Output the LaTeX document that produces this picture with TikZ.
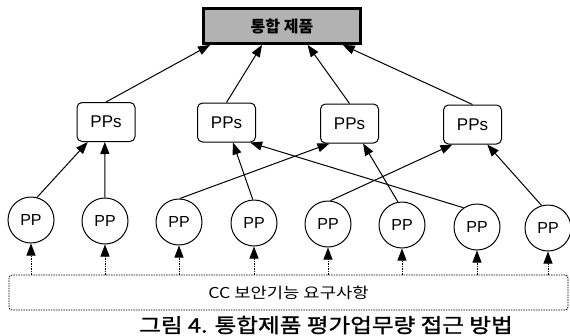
\documentclass[tikz,border=0pt]{standalone}
\usepackage{fontspec}
\setmainfont{Liberation Sans}
\newfontfamily\kr{Noto Sans CJK KR}
\newfontfamily\krw[FakeStretch=1.18]{Noto Sans CJK KR}
\newfontfamily\krc[FakeStretch=1.18,FakeBold=1.3]{Noto Sans CJK KR}
\usetikzlibrary{arrows.meta,calc}
\begin{document}
\begin{tikzpicture}[x=1pt,y=-1pt,
  topbox/.style={draw, line width=2.8pt, fill=black!30, minimum width=157pt, minimum height=35pt, inner sep=0pt, font=\kr\bfseries\fontsize{16}{16}\selectfont},
  ppsbox/.style={draw, rounded corners=5pt, line width=1pt, minimum width=58pt, minimum height=39pt, inner sep=0pt, font=\fontsize{17}{17}\selectfont},
  ppc/.style={draw, circle, line width=1pt, minimum size=46pt, inner sep=0pt, font=\fontsize{16}{16}\selectfont},
  conn/.style={line width=1pt, -{Triangle[length=12pt,width=9pt]}},
  dconn/.style={line width=0.8pt, dash pattern=on 1.5pt off 1pt, -{Triangle[length=12pt,width=9pt]}},
  dbox/.style={draw, line width=0.8pt, dash pattern=on 1.5pt off 1pt, rounded corners=3pt, minimum width=559pt, minimum height=35pt, inner sep=0pt, font=\krw\fontsize{15}{15}\selectfont},
  capt/.style={inner sep=0pt, font=\krc\fontsize{20}{20}\selectfont}
]
\useasboundingbox (0,0) rectangle (570,335);

\node[topbox] (top) at (282,26) {통합 제품};

\node[ppsbox] (s1) at (106,122) {PPs};
\node[ppsbox] (s2) at (226.5,122.5) {PPs};
\node[ppsbox] (s3) at (349.5,123.5) {PPs};
\node[ppsbox] (s4) at (472.5,124.5) {PPs};

\node[ppc] (c1) at (31,220) {PP};
\node[ppc] (c2) at (105,221) {PP};
\node[ppc] (c3) at (179,222) {PP};
\node[ppc] (c4) at (254,223) {PP};
\node[ppc] (c5) at (328,224) {PP};
\node[ppc] (c6) at (402,225) {PP};
\node[ppc] (c7) at (477,227) {PP};
\node[ppc] (c8) at (548,228) {PP};

\node[dbox] (req) at (288.5,292.5) {CC 보안기능 요구사항};
\node[capt] (cap) at (326,325) {그림 4. 통합제품 평가업무량 접근 방법};

% PPs -> top
\draw[conn] (s1.north) -- ($(top.south west)!0.05!(top.south east)$);
\draw[conn] (s2.north) -- ($(top.south west)!0.375!(top.south east)$);
\draw[conn] (s3.north) -- ($(top.south west)!0.66!(top.south east)$);
\draw[conn] (s4.north) -- ($(top.south west)!0.88!(top.south east)$);

% PP -> PPs
\draw[conn] (c1.75) -- ($(s1.south west)!0.19!(s1.south east)$);
\draw[conn] (c2.90) -- ($(s1.south west)!0.48!(s1.south east)$);
\draw[conn] (c3.88) -- ($(s3.south west)!0.16!(s3.south east)$);
\draw[conn] (c4.93) -- ($(s2.south west)!0.61!(s2.south east)$);
\draw[conn] (c5.84) -- ($(s4.south west)!0.16!(s4.south east)$);
\draw[conn] (c6.100) -- ($(s3.south west)!0.73!(s3.south east)$);
\draw[conn] (c7.125) -- ($(s2.south west)!0.9!(s2.south east)$);
\draw[conn] (c8.106) -- ($(s4.south west)!0.75!(s4.south east)$);

% requirements -> PP
\foreach \i in {1,...,8}
  \draw[dconn] (c\i.south |- req.north) -- (c\i.south);
\end{tikzpicture}
\end{document}
